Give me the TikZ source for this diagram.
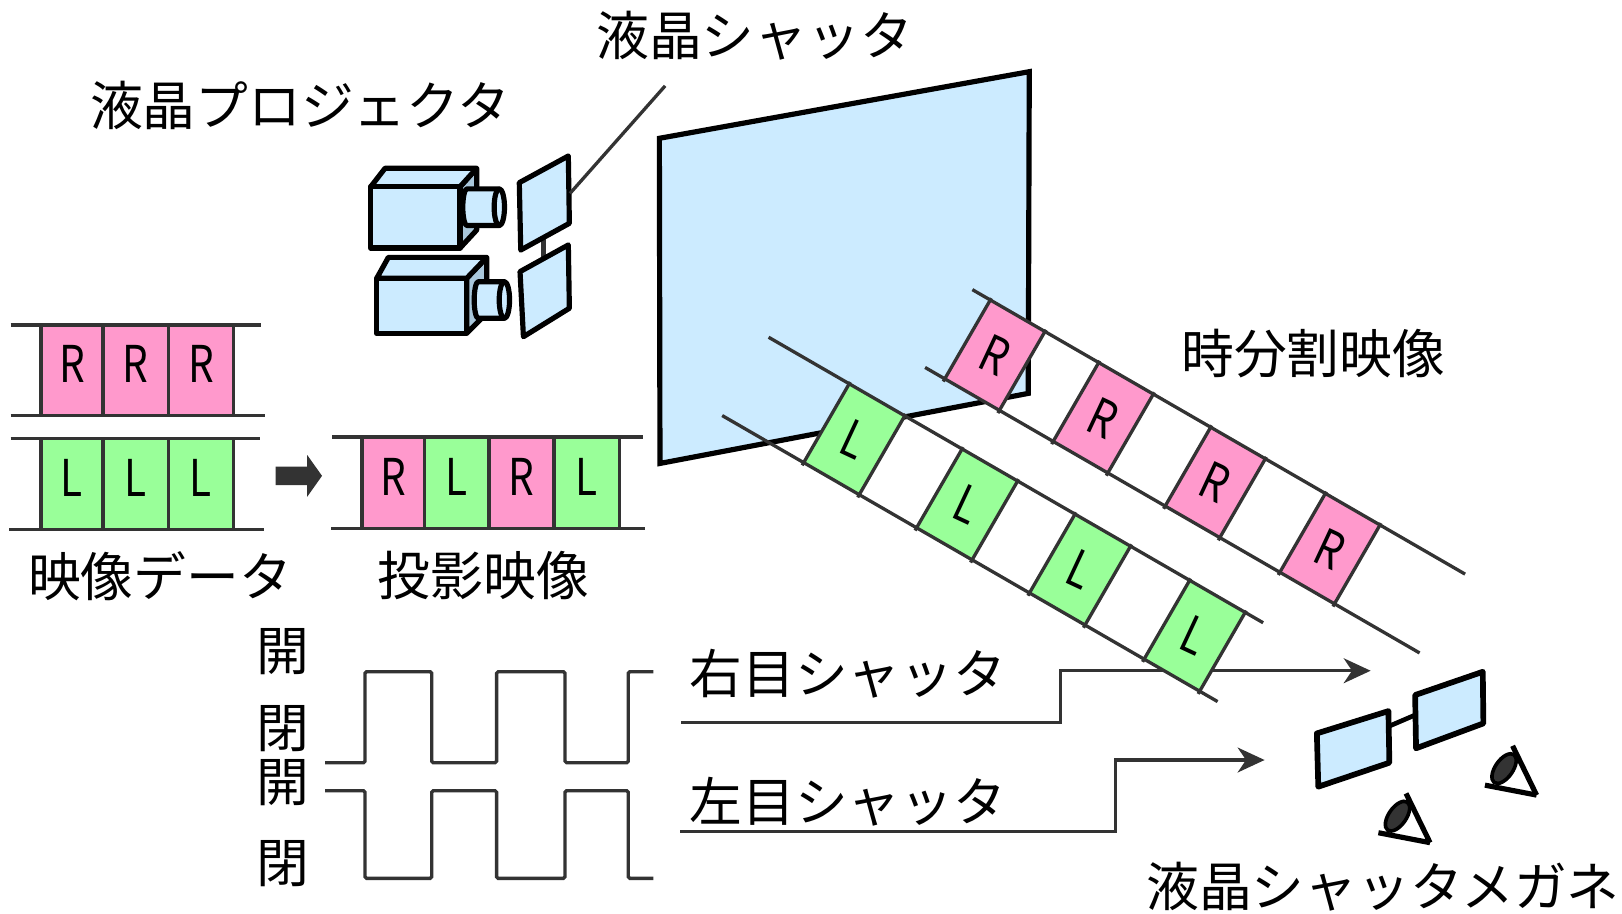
\documentclass[tikz,border=0pt]{standalone}
\usepackage{fontspec}
\setmainfont{Noto Sans CJK JP}
\usetikzlibrary{arrows.meta}
\definecolor{panelblue}{HTML}{CCEBFF}
\definecolor{sideblue}{HTML}{A9C7DB}
\definecolor{rpink}{HTML}{FF99CC}
\definecolor{lgreen}{HTML}{99FF99}
\definecolor{ink}{HTML}{333333}

\begin{document}
\begin{tikzpicture}[x=1pt,y=-1pt,
  jlabel/.style={inner sep=0pt, font=\fontsize{51}{56}\selectfont},
  letter/.style={inner sep=0pt, font=\fontsize{49}{52}\selectfont, xscale=0.8},
  gline/.style={draw=ink, line width=3.2pt},
  outline/.style={draw=black, line width=5pt, line join=round},
  sigarrow/.style={gline, -{Stealth[length=26pt,width=24pt,inset=8pt]}},
]
\useasboundingbox (0,0) rectangle (1568,883);

% ---------- projectors ----------
\begin{scope}[shift={(358.4,180.5)}]
  \filldraw[outline, fill=sideblue] (86.3,0) -- (102.4,-17.8) -- (102.4,41.9) -- (86.3,59.3) -- cycle;
  \filldraw[outline, fill=panelblue] (0,0) -- (13.8,-17.8) -- (102.4,-17.8) -- (86.3,0) -- cycle;
  \filldraw[outline, fill=panelblue] (0,0) -- (86.3,0) -- (86.3,59.3) -- (0,59.3) -- cycle;
  \filldraw[outline, fill=panelblue] (93,2.1) -- (124.3,2.1) -- (124.3,37.5) -- (93,37.5)
    arc[start angle=90, end angle=270, x radius=4, y radius=17.7] -- cycle;
  \filldraw[outline, fill=panelblue] (124.3,19.8) ellipse[x radius=5, y radius=17.7];
\end{scope}
\begin{scope}[shift={(364.2,269)}]
  \filldraw[outline, fill=sideblue] (87,0) -- (106.3,-20.2) -- (106.3,33.9) -- (87,53.2) -- cycle;
  \filldraw[outline, fill=panelblue] (0,0) -- (11.2,-20.2) -- (106.3,-20.2) -- (87,0) -- cycle;
  \filldraw[outline, fill=panelblue] (0,0) -- (87,0) -- (87,53.2) -- (0,53.2) -- cycle;
  \filldraw[outline, fill=panelblue] (98.2,3.3) -- (123.4,3.3) -- (123.4,38.7) -- (98.2,38.7)
    arc[start angle=90, end angle=270, x radius=4, y radius=17.7] -- cycle;
  \filldraw[outline, fill=panelblue] (123.4,21) ellipse[x radius=5, y radius=17.7];
\end{scope}

% ---------- LC shutters ----------
\draw[ink, line width=5pt] (525,224) -- (525,250);
\filldraw[outline, fill=panelblue] (502,176.6) -- (549.4,150.8) -- (550.4,215.9) -- (503.4,241.7) -- cycle;
\filldraw[outline, fill=panelblue] (502.7,262.6) -- (549.4,236.8) -- (550.4,298) -- (506,325.5) -- cycle;
\coordinate (shA) at (551,187);
\coordinate (shB) at (643,83);
\draw[gline] (shA) -- (shB);

% ---------- screen ----------
\filldraw[draw=black, line width=5pt, fill=panelblue]
  (637.4,133.7) -- (995,69.3) -- (994,380.3) -- (638,448) -- cycle;

% ---------- shutter timing ----------
\draw[gline, rounded corners=1.5pt] (314.2,737.3) -- (352.9,737.3) -- (352.9,649.3) -- (417.3,649.3)
  -- (417.3,737.3) -- (480.1,737.3) -- (480.1,649.3) -- (546.2,649.3) -- (546.2,737.3)
  -- (607.4,737.3) -- (607.4,649.3) -- (631.6,649.3);
\draw[gline, rounded corners=1.5pt] (314.2,764.4) -- (352.9,764.4) -- (352.9,849.1) -- (417.3,849.1)
  -- (417.3,764.4) -- (480.1,764.4) -- (480.1,849.1) -- (546.2,849.1) -- (546.2,764.4)
  -- (607.4,764.4) -- (607.4,849.1) -- (631.6,849.1);

\coordinate (reS) at (658.8,698.6);
\coordinate (reT) at (1325,648.4);
\coordinate (leS) at (657.5,804);
\coordinate (leT) at (1222.5,734.7);
\draw[sigarrow] (reS) -- (1025,698.6) -- (1025,648.4) -- (reT);
\draw[sigarrow] (leS) -- (1078.3,804) -- (1078.3,734.7) -- (leT);

% ---------- time-division image bands ----------
\begin{scope}[shift={(940,280)}, rotate=-30]
  \foreach \s in {20,141,266,394} {
    \fill[rpink] (\s,0) -- (\s+61,0) -- (\s+61,88) -- (\s,88) -- cycle;
  }
  \draw[gline] (0,0) -- (550,0);
  \draw[gline] (-2,88) -- (550,88);
  \foreach \s in {20,141,266,394} {
    \draw[gline] (\s,-2) -- (\s,91);
    \draw[gline] (\s+61,-2) -- (\s+61,91);
    \node[rotate=-25, letter] (bR\s) at (\s+30.5,44) {R};
  }
\end{scope}
\begin{scope}[shift={(743,326)}, rotate=-30]
  \foreach \s in {90,216,342,470} {
    \fill[lgreen] (\s,0) -- (\s+62,0) -- (\s+62,88) -- (\s,88) -- cycle;
  }
  \draw[gline] (0,0) -- (552,0);
  \draw[gline] (-1,88) -- (552,88);
  \foreach \s in {90,216,342,470} {
    \draw[gline] (\s,-2) -- (\s,91);
    \draw[gline] (\s+62,-2) -- (\s+62,91);
    \node[rotate=-25, letter] (bL\s) at (\s+31,44) {L};
  }
\end{scope}

% ---------- shutter glasses ----------
\draw[black, line width=4.5pt] (1343.1,701.9) -- (1368,691.2);
\filldraw[outline, line width=5.5pt, fill=panelblue] (1273,709) -- (1342.2,687.4) -- (1343.1,737.3) -- (1274.4,760.5) -- cycle;
\filldraw[outline, line width=5.5pt, fill=panelblue] (1368,671.9) -- (1433.4,649.4) -- (1434,699.3) -- (1368.9,723.4) -- cycle;

% eyes
\foreach \dx/\dy in {0/0, 103/-46} {
  \begin{scope}[shift={(\dx,\dy)}]
    \filldraw[draw=black, line width=3.5pt, fill=ink] (1351,789) ellipse[x radius=16.5, y radius=8.5, rotate=55];
    \draw[black, line width=5pt] (1332.5,805) -- (1382.4,814.6);
    \draw[black, line width=5pt] (1359.2,767) -- (1382.4,814.6);
  \end{scope}
}

% ---------- image data strips ----------
\foreach \a/\b [count=\i] in {39.5/99.7, 99.7/162.8, 162.8/225.8} {
  \fill[rpink] (\a,314.2) rectangle (\b,401.5);
  \fill[lgreen] (\a,423.7) rectangle (\b,511.7);
  \node[letter] (dR\i) at ({(\a+\b)/2},352) {R};
  \node[letter] (dL\i) at ({(\a+\b)/2},462) {L};
}
\foreach \x in {39.5, 99.7, 162.8, 225.8} {
  \draw[gline] (\x,314.2) -- (\x,401.5);
  \draw[gline] (\x,423.7) -- (\x,511.7);
}
\draw[gline] (10.2,314.2) -- (252.3,314.2);
\draw[gline] (10.2,401.5) -- (256.3,401.5);
\draw[gline] (10.2,423.7) -- (251.4,423.7);
\draw[gline] (9,511.7) -- (255.5,511.7);

% block arrow
\fill[ink] (266.5,451.2) -- (297,451.2) -- (297,439.9) -- (311.3,460) -- (297,480.2)
  -- (297,468.9) -- (266.5,468.9) -- cycle;

% projected image strip
\foreach \a/\b/\c/\t [count=\i] in {350/410.1/rpink/R, 410.1/472.8/lgreen/L, 472.8/535.5/rpink/R, 535.5/598.9/lgreen/L} {
  \fill[\c] (\a,422.5) rectangle (\b,510.8);
  \node[letter] (pj\i) at ({(\a+\b)/2},461) {\t};
}
\foreach \x in {350, 410.1, 472.8, 535.5, 598.9} {
  \draw[gline] (\x,422.5) -- (\x,510.8);
}
\draw[gline] (321.4,422.5) -- (621.7,422.5);
\draw[gline] (320,510.8) -- (623.3,510.8);

% ---------- labels ----------
\node[jlabel] (tProj)  at (290,101.5)   {液晶プロジェクタ};
\node[jlabel] (tShut)  at (729.5,34.6)  {液晶シャッタ};
\node[jlabel] (tData)  at (154.8,556.7) {映像データ};
\node[jlabel] (tPrj)   at (467.4,556.7) {投影映像};
\node[jlabel] (tTime)  at (1269.6,341.6) {時分割映像};
\node[jlabel] (tRight) at (819.7,651)   {右目シャッタ};
\node[jlabel] (tLeft)  at (819.7,775)   {左目シャッタ};
\node[jlabel] (tGlass) at (1337,857)    {液晶シャッタメガネ};
\node[jlabel] (open1)  at (273,630)     {開};
\node[jlabel] (shut1)  at (273,704)     {閉};
\node[jlabel] (open2)  at (273,756.5)   {開};
\node[jlabel] (shut2)  at (273,834.6)   {閉};
\end{tikzpicture}
\end{document}
